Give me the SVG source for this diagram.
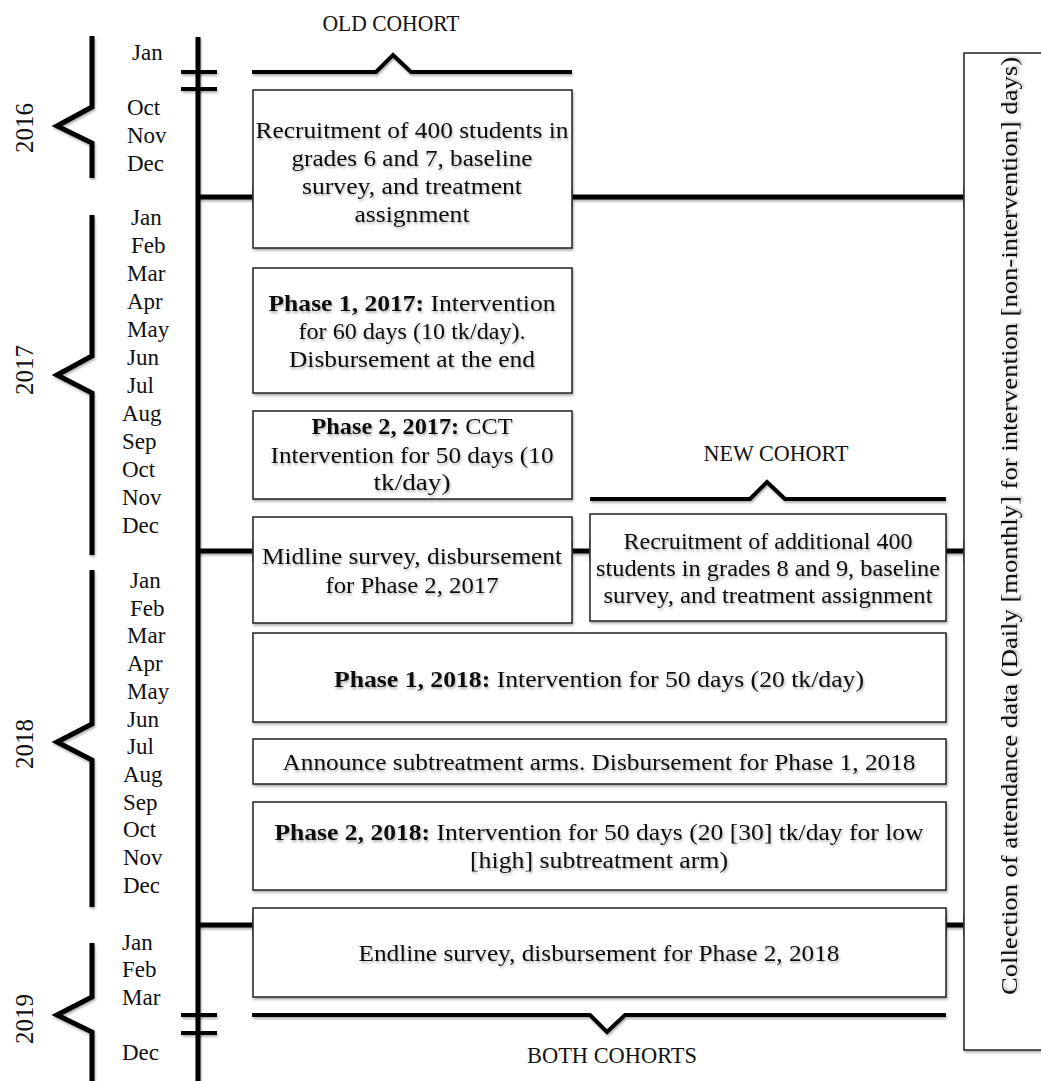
<svg xmlns="http://www.w3.org/2000/svg" width="1041" height="1081" viewBox="0 0 1041 1081">
<defs>
<filter id="sh" filterUnits="userSpaceOnUse" x="0" y="0" width="1041" height="1081">
<feDropShadow dx="1" dy="2" stdDeviation="1.2" flood-color="#000" flood-opacity="0.3"/>
</filter>
<filter id="sht" x="-5%" y="-20%" width="110%" height="140%">
<feDropShadow dx="1" dy="2" stdDeviation="1.2" flood-color="#000" flood-opacity="0.3"/>
</filter>
<style>
text{font-family:"Liberation Serif","Times New Roman",serif;fill:#111;}
.m{font-size:23px;}
.y{font-size:25px;text-anchor:middle;}
.t{font-size:24px;text-anchor:middle;filter:url(#sht);}
.c{font-size:23px;text-anchor:middle;}
.b{font-weight:bold;}
.thick{fill:none;stroke:#000;stroke-width:5;stroke-linejoin:miter;filter:url(#sh);}
.br{fill:none;stroke:#000;stroke-width:4;filter:url(#sh);}
.box{fill:#fff;stroke:#222;stroke-width:1.5;filter:url(#sh);}
.tick{stroke:#777;stroke-width:1.5;}
</style>
</defs>
<rect width="1041" height="1081" fill="#fff"/>

<g id="year-braces">
<path class="thick" d="M92,36 V107 L57,126 L92,143 V178"/>
<path class="thick" d="M92,215 V356 L57,375 L92,393 V555"/>
<path class="thick" d="M92,570 V724 L57,742 L92,760 V907"/>
<path class="thick" d="M92,943 V997 L57,1015 L92,1032 V1081"/>
<text class="y" transform="translate(33,128) rotate(-90)">2016</text>
<text class="y" transform="translate(33,370) rotate(-90)">2017</text>
<text class="y" transform="translate(33,744) rotate(-90)">2018</text>
<text class="y" transform="translate(33,1019) rotate(-90)">2019</text>
</g>

<g id="months">
<text class="m" x="132" y="60">Jan</text>
<text class="m" x="127" y="115">Oct</text>
<text class="m" x="127" y="143">Nov</text>
<text class="m" x="127" y="171">Dec</text>
<text class="m" x="131" y="225">Jan</text>
<text class="m" x="131" y="253">Feb</text>
<text class="m" x="127" y="281">Mar</text>
<text class="m" x="127" y="309">Apr</text>
<text class="m" x="127" y="337">May</text>
<text class="m" x="127" y="365">Jun</text>
<text class="m" x="127" y="393">Jul</text>
<text class="m" x="122" y="421">Aug</text>
<text class="m" x="122" y="449">Sep</text>
<text class="m" x="122" y="477">Oct</text>
<text class="m" x="122" y="505">Nov</text>
<text class="m" x="122" y="533">Dec</text>
<text class="m" x="130" y="588">Jan</text>
<text class="m" x="130" y="616">Feb</text>
<text class="m" x="127" y="643">Mar</text>
<text class="m" x="127" y="671">Apr</text>
<text class="m" x="127" y="699">May</text>
<text class="m" x="127" y="727">Jun</text>
<text class="m" x="127" y="754">Jul</text>
<text class="m" x="123" y="782">Aug</text>
<text class="m" x="123" y="810">Sep</text>
<text class="m" x="123" y="837">Oct</text>
<text class="m" x="123" y="865">Nov</text>
<text class="m" x="123" y="893">Dec</text>
<text class="m" x="122" y="950">Jan</text>
<text class="m" x="122" y="977">Feb</text>
<text class="m" x="122" y="1005">Mar</text>
<text class="m" x="122" y="1060">Dec</text>
</g>

<g id="timeline">
<line class="thick" x1="198" y1="37" x2="198" y2="1081"/>
<line class="br" x1="181" y1="72" x2="217" y2="72"/>
<line class="br" x1="181" y1="89" x2="217" y2="89"/>
<line class="br" x1="181" y1="1015" x2="217" y2="1015"/>
<line class="br" x1="181" y1="1033" x2="217" y2="1033"/>
</g>

<g id="cohorts">
<polyline class="br" points="252,72 376,72 393,55 411,72 572,72"/>
<text class="c" x="391" y="31" textLength="137" lengthAdjust="spacingAndGlyphs">OLD COHORT</text>
<polyline class="br" points="590,499 750,499 767,482 785,499 946,499"/>
<text class="c" x="776" y="461" textLength="145" lengthAdjust="spacingAndGlyphs">NEW COHORT</text>
<polyline class="br" points="252,1015 590,1015 607,1032 625,1015 946,1015"/>
<text class="c" x="612" y="1063" textLength="170" lengthAdjust="spacingAndGlyphs">BOTH COHORTS</text>
</g>

<g id="connectors">
<line class="thick" x1="198" y1="197" x2="253" y2="197"/>
<line class="thick" x1="572" y1="197" x2="964" y2="197"/>
<line class="thick" x1="198" y1="551" x2="253" y2="551"/>
<line class="thick" x1="572" y1="551" x2="590" y2="551"/>
<line class="thick" x1="946" y1="551" x2="964" y2="551"/>
<line class="thick" x1="198" y1="925" x2="253" y2="925"/>
<line class="thick" x1="946" y1="925" x2="964" y2="925"/>
<line class="tick" x1="253" y1="186" x2="253" y2="208"/>
<line class="tick" x1="572" y1="186" x2="572" y2="208"/>
<line class="tick" x1="964" y1="186" x2="964" y2="208"/>
<line class="tick" x1="253" y1="540" x2="253" y2="562"/>
<line class="tick" x1="572" y1="540" x2="572" y2="562"/>
<line class="tick" x1="590" y1="540" x2="590" y2="562"/>
<line class="tick" x1="946" y1="540" x2="946" y2="562"/>
<line class="tick" x1="964" y1="540" x2="964" y2="562"/>
<line class="tick" x1="253" y1="914" x2="253" y2="936"/>
<line class="tick" x1="946" y1="914" x2="946" y2="936"/>
<line class="tick" x1="964" y1="914" x2="964" y2="936"/>
</g>

<g id="box-recruit-old">
<rect class="box" x="253" y="90" width="319" height="158"/>
<text class="t" x="412" y="138" textLength="313" lengthAdjust="spacingAndGlyphs">Recruitment of 400 students in</text>
<text class="t" x="412" y="166" textLength="241" lengthAdjust="spacingAndGlyphs">grades 6 and 7, baseline</text>
<text class="t" x="412" y="194" textLength="220" lengthAdjust="spacingAndGlyphs">survey, and treatment</text>
<text class="t" x="412" y="222" textLength="115" lengthAdjust="spacingAndGlyphs">assignment</text>
</g>

<g id="box-phase1-2017">
<rect class="box" x="253" y="268" width="319" height="125"/>
<text class="t" x="412" y="311" textLength="287" lengthAdjust="spacingAndGlyphs"><tspan class="b">Phase 1, 2017:</tspan> Intervention</text>
<text class="t" x="412" y="339" textLength="227" lengthAdjust="spacingAndGlyphs">for 60 days (10 tk/day).</text>
<text class="t" x="412" y="367" textLength="246" lengthAdjust="spacingAndGlyphs">Disbursement at the end</text>
</g>

<g id="box-phase2-2017">
<rect class="box" x="253" y="411" width="319" height="88"/>
<text class="t" x="412" y="434" textLength="201" lengthAdjust="spacingAndGlyphs"><tspan class="b">Phase 2, 2017:</tspan> CCT</text>
<text class="t" x="412" y="463" textLength="283" lengthAdjust="spacingAndGlyphs">Intervention for 50 days (10</text>
<text class="t" x="412" y="490" textLength="77" lengthAdjust="spacingAndGlyphs">tk/day)</text>
</g>

<g id="box-midline">
<rect class="box" x="253" y="517" width="319" height="106"/>
<text class="t" x="412" y="564" textLength="300" lengthAdjust="spacingAndGlyphs">Midline survey, disbursement</text>
<text class="t" x="412" y="593" textLength="173" lengthAdjust="spacingAndGlyphs">for Phase 2, 2017</text>
</g>

<g id="box-recruit-new">
<rect class="box" x="590" y="514" width="356" height="107"/>
<text class="t" x="768" y="549" textLength="289" lengthAdjust="spacingAndGlyphs">Recruitment of additional 400</text>
<text class="t" x="768" y="576" textLength="344" lengthAdjust="spacingAndGlyphs">students in grades 8 and 9, baseline</text>
<text class="t" x="768" y="603" textLength="329" lengthAdjust="spacingAndGlyphs">survey, and treatment assignment</text>
</g>

<g id="box-phase1-2018">
<rect class="box" x="253" y="633" width="693" height="89"/>
<text class="t" x="599" y="687" textLength="530" lengthAdjust="spacingAndGlyphs"><tspan class="b">Phase 1, 2018:</tspan> Intervention for 50 days (20 tk/day)</text>
</g>

<g id="box-announce">
<rect class="box" x="253" y="739" width="693" height="45"/>
<text class="t" x="599" y="770" textLength="633" lengthAdjust="spacingAndGlyphs">Announce subtreatment arms. Disbursement for Phase 1, 2018</text>
</g>

<g id="box-phase2-2018">
<rect class="box" x="253" y="802" width="693" height="88"/>
<text class="t" x="599" y="840" textLength="649" lengthAdjust="spacingAndGlyphs"><tspan class="b">Phase 2, 2018:</tspan> Intervention for 50 days (20 [30] tk/day for low</text>
<text class="t" x="599" y="868" textLength="258" lengthAdjust="spacingAndGlyphs">[high] subtreatment arm)</text>
</g>

<g id="box-endline">
<rect class="box" x="253" y="908" width="693" height="89"/>
<text class="t" x="599" y="961" textLength="481" lengthAdjust="spacingAndGlyphs">Endline survey, disbursement for Phase 2, 2018</text>
</g>

<g id="box-attendance">
<rect class="box" x="964" y="53" width="100" height="997"/>
<text class="t" transform="translate(1017,526) rotate(-90)" x="0" y="0" textLength="938" lengthAdjust="spacingAndGlyphs">Collection of attendance data (Daily [monthly] for intervention [non-intervention] days)</text>
</g>
</svg>
